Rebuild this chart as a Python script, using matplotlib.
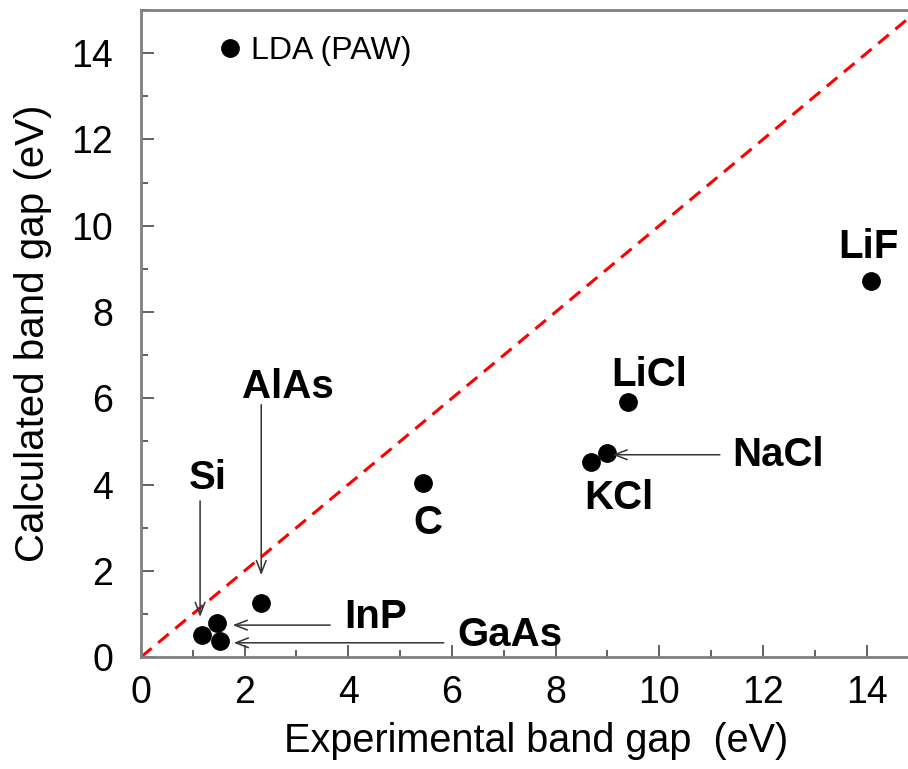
import matplotlib
matplotlib.use('Agg')
import matplotlib.pyplot as plt
from matplotlib.ticker import MultipleLocator

plt.rcParams['font.family'] = ['Liberation Sans', 'DejaVu Sans']

# experimental vs LDA (PAW) band gaps, eV
names = ['Si', 'InP', 'GaAs', 'AlAs', 'C', 'KCl', 'NaCl', 'LiCl', 'LiF']
exp_gap = [1.17, 1.47, 1.53, 2.32, 5.45, 8.68, 9.00, 9.39, 14.09]
lda_gap = [0.51, 0.78, 0.38, 1.25, 4.03, 4.53, 4.73, 5.92, 8.72]

# labels placed directly next to the points
plain_labels = {'C': (5.53, 3.11), 'KCl': (9.22, 3.69), 'LiCl': (9.80, 6.55), 'LiF': (14.03, 9.50)}
# labels that point at their marker with an arrow: text pos, arrow start, arrow tip
arrow_labels = {
    'Si': ((1.28, 4.16), (1.14, 3.62), (1.14, 0.93)),
    'AlAs': ((2.84, 6.25), (2.32, 5.85), (2.32, 1.90)),
    'InP': ((4.52, 0.93), (3.65, 0.74), (1.77, 0.74)),
    'GaAs': ((7.11, 0.51), (5.84, 0.33), (1.79, 0.33)),
    'NaCl': ((12.29, 4.69), (11.17, 4.69), (9.10, 4.69)),
}

fig = plt.figure(figsize=(9.08, 7.69), dpi=100)
ax = fig.add_axes([0.1553, 0.1456, 0.8447, 0.8413])

ax.plot([0, 15], [0, 15], color='red', lw=2.2, ls=(0, (4.5, 2.8)), zorder=1)
ax.plot(exp_gap, lda_gap, 'o', color='black', ms=12.5, label='LDA (PAW)', zorder=3)

for name, (tx, ty) in plain_labels.items():
    ax.text(tx, ty, name, fontsize=29, fontweight='bold', ha='center', va='center')

for name, (tpos, start, tip) in arrow_labels.items():
    ax.text(tpos[0], tpos[1], name, fontsize=29, fontweight='bold', ha='center', va='center')
    ax.annotate('', xy=tip, xytext=start,
                arrowprops=dict(arrowstyle='->,head_length=0.9,head_width=0.35',
                                color='#333333', lw=1.1, shrinkA=0, shrinkB=0))

ax.set_xlim(0, 14.8)
ax.set_ylim(0, 15)
ax.xaxis.set_major_locator(MultipleLocator(2))
ax.xaxis.set_minor_locator(MultipleLocator(1))
ax.yaxis.set_major_locator(MultipleLocator(2))
ax.yaxis.set_minor_locator(MultipleLocator(1))
ax.tick_params(which='both', direction='in', color='#555555', width=1.3,
               labelsize=27, top=False, right=False)
ax.tick_params(axis='x', which='both', pad=13)
ax.tick_params(axis='y', which='both', pad=20)
ax.tick_params(which='major', length=9)
ax.tick_params(which='minor', length=5)
for side in ['left', 'bottom', 'top']:
    ax.spines[side].set_color('#808080')
    ax.spines[side].set_linewidth(2)
ax.spines['right'].set_visible(False)

ax.set_xlabel('Experimental band gap  (eV)', fontsize=28.5, labelpad=8)
ax.xaxis.label.set_x(0.515)
ax.set_ylabel('Calculated band gap (eV)', fontsize=29, labelpad=14)

ax.legend(loc='upper left', bbox_to_anchor=(0.104, 0.96), frameon=False, fontsize=23,
          handlelength=0.6, handletextpad=0.35, borderpad=0, borderaxespad=0, numpoints=1)

fig.savefig('out.png', dpi=100)
